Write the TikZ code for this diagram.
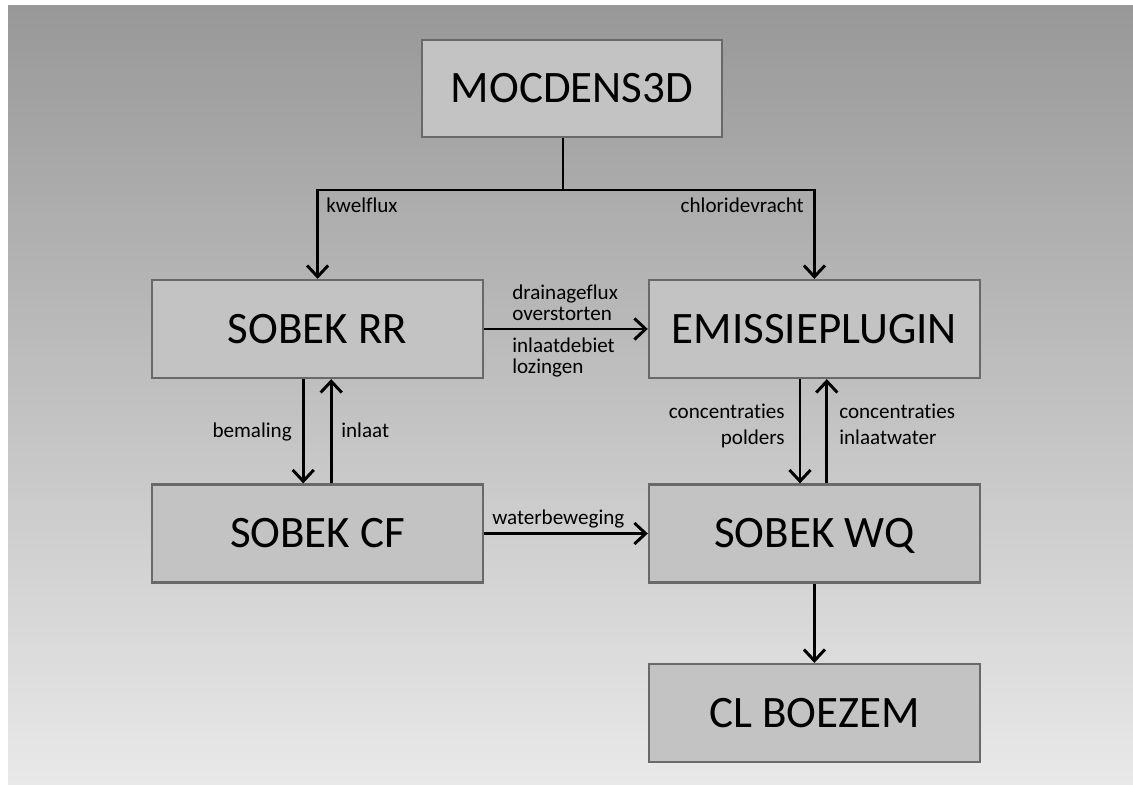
\documentclass[tikz,border=0pt]{standalone}
\usepackage{fontspec}
\setmainfont{Carlito}[Ligatures=NoCommon]
\usetikzlibrary{arrows.meta}

\definecolor{bgtop}{RGB}{152,152,152}
\definecolor{bgbottom}{RGB}{233,233,233}
\definecolor{boxfill}{RGB}{195,195,195}
\definecolor{boxline}{RGB}{105,105,105}

\tikzset{
  model/.style={draw=boxline, fill=boxfill, line width=1.6pt,
    minimum width=8.275cm, minimum height=2.45cm, inner sep=0pt,
    text height=20.6pt, text depth=0pt,
    font=\fontsize{32}{38}\selectfont},
  flow/.style={line width=2.1pt, -{Straight Barb[length=8pt,width=15pt]}},
  link/.style={line width=2.1pt},
  lbl/.style={inner sep=0pt, font=\fontsize{15}{19}\selectfont},
}

\begin{document}
\begin{tikzpicture}

  % background
  \shade[top color=bgtop, bottom color=bgbottom] (0.2,0) rectangle (28.325,19.45);
  \useasboundingbox (0,0) rectangle (28.325,19.6);

  % models
  \node[model, minimum width=7.5cm, minimum height=2.425cm] (moc) at (14.3,17.3875) {MOCDENS3D};
  \node[model] (rr)   at (7.94,11.375)  {SOBEK RR};
  \node[model] (emis) at (20.36,11.375) {EMISSIEPLUGIN};
  \node[model] (cf)   at (7.94,6.2625)  {SOBEK CF};
  \node[model] (wq)   at (20.36,6.2625) {SOBEK WQ};
  \node[model] (cl)   at (20.36,1.775)  {CL BOEZEM};

  % MOCDENS3D to RR and emissieplugin
  \coordinate (split) at (14.075,14.85);
  \draw[link] (moc.south -| split) -- (split);
  \draw[flow] (split) -| (rr.north);
  \draw[flow] (split) -| (emis.north);
  \node[lbl, anchor=base west] (kwel) at (8.15,14.275) {kwelflux};
  \node[lbl, anchor=base east] (chlor) at (20.1,14.275) {chloridevracht};

  % RR to emissieplugin
  \draw[flow] (rr.east) -- (emis.west);
  \node[lbl, anchor=base west, align=left, font=\fontsize{15}{15}\selectfont] (drain) at (12.8,11.575) {drainageflux\\overstorten};
  \node[lbl, anchor=base west, align=left, font=\fontsize{15}{15}\selectfont] (inl) at (12.8,10.25) {inlaatdebiet\\lozingen};

  % RR and CF
  \draw[flow] ([xshift=-0.36cm]rr.south) -- ([xshift=-0.36cm]cf.north);
  \draw[flow] ([xshift=0.34cm]cf.north) -- ([xshift=0.34cm]rr.south);
  \node[lbl, anchor=base east] (bem) at (7.3,8.65) {bemaling};
  \node[lbl, anchor=base west] (inlaat) at (8.525,8.65) {inlaat};

  % emissieplugin and WQ
  \draw[flow] ([xshift=-0.36cm]emis.south) -- ([xshift=-0.36cm]wq.north);
  \draw[flow] ([xshift=0.31cm]wq.north) -- ([xshift=0.31cm]emis.south);
  \node[lbl, anchor=base east, align=right] (cpold) at (19.625,8.475) {concentraties\\polders};
  \node[lbl, anchor=base west, align=left] (cinl) at (20.975,8.475) {concentraties\\inlaatwater};

  % CF to WQ, WQ to boezem
  \draw[flow] (cf.east) -- (wq.west);
  \node[lbl, anchor=base west] (wb) at (12.3,6.475) {waterbeweging};
  \draw[flow] (wq.south) -- (cl.north);

\end{tikzpicture}
\end{document}
